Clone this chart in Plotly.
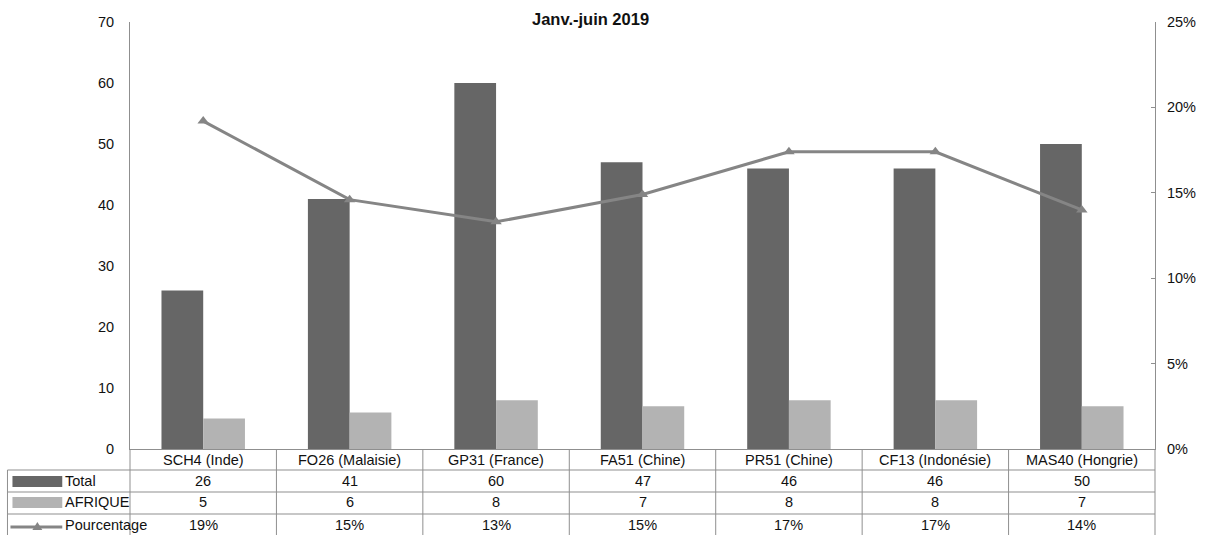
import plotly.graph_objects as go

categories = ["SCH4 (Inde)", "FO26 (Malaisie)", "GP31 (France)", "FA51 (Chine)",
              "PR51 (Chine)", "CF13 (Indonésie)", "MAS40 (Hongrie)"]
total = [26, 41, 60, 47, 46, 46, 50]
afrique = [5, 6, 8, 7, 8, 8, 7]
pourcentage = [0.192, 0.146, 0.133, 0.149, 0.174, 0.174, 0.140]
pct_labels = ["19%", "15%", "13%", "15%", "17%", "17%", "14%"]
series_names = ["Total", "AFRIQUE", "Pourcentage"]
title = "Janv.-juin 2019"

W, H = 1208, 535
X0, X1 = 130, 1159   # plot area px
Y0, Y1 = 22, 449

def px(X):
    return (X - X0) / (X1 - X0)

def py(Y):
    return (Y1 - Y) / (Y1 - Y0)

DARK = "#666666"
LIGHT = "#b3b3b3"
LINE = "#858585"
GRID = "#8f8f8f"
FONT = "Liberation Sans, Arial, sans-serif"
FS = 14.5

fig = go.Figure()
fig.add_trace(go.Bar(x=categories, y=total, name=series_names[0], marker_color=DARK,
                     marker_line_width=0, yaxis="y"))
fig.add_trace(go.Bar(x=categories, y=afrique, name=series_names[1], marker_color=LIGHT,
                     marker_line_width=0, yaxis="y"))
fig.add_trace(go.Scatter(x=categories, y=pourcentage, name=series_names[2], yaxis="y2",
                         mode="lines+markers", line=dict(color=LINE, width=3),
                         marker=dict(symbol="triangle-up", size=10, color=LINE)))

shapes = []
annotations = []

# table horizontal lines
for Y in [470, 492, 514]:
    shapes.append(dict(type="line", xref="paper", yref="paper", x0=px(7), x1=px(X1),
                       y0=py(Y), y1=py(Y), line=dict(color=GRID, width=1)))
# vertical lines of table
ncat = len(categories)
cw = (X1 - X0) / ncat
for k in range(ncat + 1):
    X = X0 + cw * k
    shapes.append(dict(type="line", xref="paper", yref="paper", x0=px(X), x1=px(X),
                       y0=py(Y1), y1=py(H + 2), line=dict(color=GRID, width=1)))
shapes.append(dict(type="line", xref="paper", yref="paper", x0=px(7), x1=px(7),
                   y0=py(470), y1=py(H + 2), line=dict(color=GRID, width=1)))

# legend keys
shapes.append(dict(type="rect", xref="paper", yref="paper", x0=px(12), x1=px(62),
                   y0=py(487), y1=py(476), fillcolor=DARK, line=dict(width=0)))
shapes.append(dict(type="rect", xref="paper", yref="paper", x0=px(12), x1=px(62),
                   y0=py(508), y1=py(497), fillcolor=LIGHT, line=dict(width=0)))
shapes.append(dict(type="line", xref="paper", yref="paper", x0=px(10), x1=px(62),
                   y0=py(527), y1=py(527), line=dict(color=LINE, width=3)))
shapes.append(dict(type="path", xref="paper", yref="paper",
                   path=f"M {px(32)},{py(530)} L {px(42)},{py(530)} L {px(37)},{py(522)} Z",
                   fillcolor=LINE, line=dict(width=0)))

row_y = {"cat": 460, "Total": 481, "AFRIQUE": 502, "Pourcentage": 525}
txtfont = dict(family=FONT, size=FS, color="#111111")

for i, c in enumerate(categories):
    annotations.append(dict(x=c, xref="x", y=py(row_y["cat"]), yref="paper", text=c,
                            showarrow=False, font=txtfont, yanchor="middle"))
    annotations.append(dict(x=c, xref="x", y=py(row_y["Total"]), yref="paper", text=str(total[i]),
                            showarrow=False, font=txtfont, yanchor="middle"))
    annotations.append(dict(x=c, xref="x", y=py(row_y["AFRIQUE"]), yref="paper", text=str(afrique[i]),
                            showarrow=False, font=txtfont, yanchor="middle"))
    annotations.append(dict(x=c, xref="x", y=py(row_y["Pourcentage"]), yref="paper", text=pct_labels[i],
                            showarrow=False, font=txtfont, yanchor="middle"))

for name in series_names:
    annotations.append(dict(x=px(63), xref="paper", y=py(row_y[name]), yref="paper", text=name,
                            showarrow=False, font=txtfont, xanchor="left", yanchor="middle"))

annotations.append(dict(x=px(592), xref="paper", y=py(19), yref="paper", text="<b>" + title + "</b>",
                        showarrow=False, font=dict(family=FONT, size=16.5, color="#111111"),
                        xanchor="center", yanchor="middle"))

fig.update_layout(
    width=W, height=H,
    margin=dict(l=X0, r=W - X1, t=Y0, b=H - Y1, pad=0),
    paper_bgcolor="white", plot_bgcolor="white",
    barmode="group", bargap=0.43, bargroupgap=0,
    showlegend=False,
    font=dict(family=FONT, size=FS, color="#111111"),
    xaxis=dict(showticklabels=False, showline=True, linecolor=GRID, linewidth=1,
               ticks="", showgrid=False, zeroline=False),
    yaxis=dict(range=[0, 70], dtick=10, showline=True, linecolor=GRID, linewidth=1,
               showgrid=False, zeroline=False, ticks="", ticklabelstandoff=12,
               tickfont=dict(family=FONT, size=FS, color="#111111")),
    yaxis2=dict(range=[0, 0.25], dtick=0.05, tickformat=".0%", overlaying="y", side="right",
                showline=True, linecolor=GRID, linewidth=1, showgrid=False, zeroline=False,
                ticks="inside", ticklen=4, tickcolor=GRID, ticklabelstandoff=8,
                tickfont=dict(family=FONT, size=FS, color="#111111")),
    shapes=shapes, annotations=annotations,
)

fig.write_html("out.html")
